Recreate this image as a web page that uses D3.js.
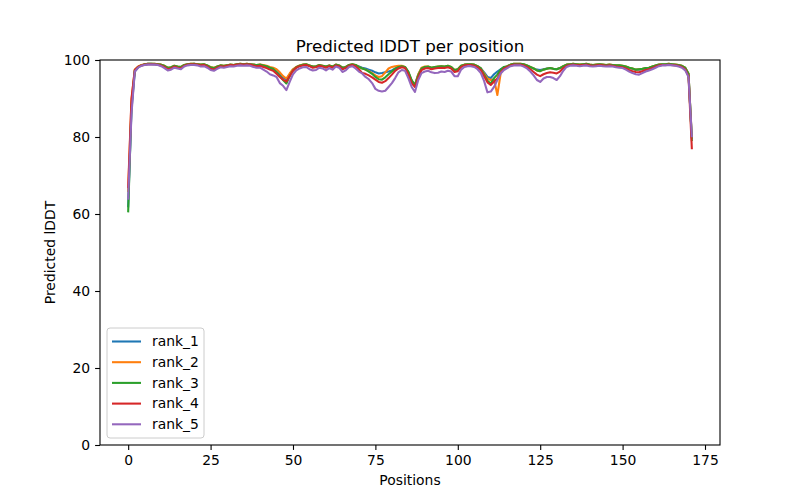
<!DOCTYPE html>
<html>
<head>
<meta charset="utf-8">
<style>
  body { margin: 0; background: #fff; }
  text { font-family: "DejaVu Sans", sans-serif; fill: #000; }
</style>
</head>
<body>
<script src="https://d3js.org/d3.v7.min.js"></script>
<script>
// predicted lDDT per residue position, 5 ranked models
var seriesNames = ["rank_1", "rank_2", "rank_3", "rank_4", "rank_5"];
var seriesColors = ["#1f77b4", "#ff7f0e", "#2ca02c", "#d62728", "#9467bd"];
var xTicks = [0, 25, 50, 75, 100, 125, 150, 175];
var yTicks = [0, 20, 40, 60, 80, 100];

var rank_1 = [
  62.0, 87.0, 97.0, 98.1, 98.6, 98.8, 99.0, 99.0, 98.9, 98.9,
  98.7, 98.4, 97.9, 98.0, 98.4, 98.2, 98.1, 98.6, 98.9, 98.9,
  99.0, 98.9, 98.7, 98.8, 98.5, 98.0, 97.8, 98.2, 98.5, 98.4,
  98.6, 98.7, 98.7, 98.8, 98.9, 98.9, 98.9, 98.9, 98.7, 98.6,
  98.7, 98.5, 98.3, 98.0, 97.6, 97.0, 96.2, 95.5, 95.0, 96.3,
  97.5, 98.1, 98.5, 98.7, 98.8, 98.5, 98.2, 98.3, 98.6, 98.4,
  98.2, 98.5, 98.2, 98.7, 98.5, 97.9, 98.1, 98.6, 98.8, 98.6,
  98.3, 98.0, 97.8, 97.5, 97.2, 96.8, 96.5, 96.6, 96.8, 97.0,
  97.3, 97.8, 98.2, 98.3, 98.1, 96.8, 94.5, 93.6, 96.2, 97.8,
  98.1, 98.2, 97.9, 98.1, 98.2, 98.3, 98.2, 98.4, 98.1, 97.3,
  97.5, 98.4, 98.7, 98.8, 98.8, 98.7, 98.3, 97.8, 96.8, 95.6,
  95.3, 96.3, 97.0, 97.6, 98.0, 98.3, 98.7, 98.9, 98.9, 98.9,
  98.8, 98.5, 98.1, 97.8, 97.5, 97.4, 97.6, 97.8, 97.9, 97.7,
  97.6, 97.9, 98.3, 98.7, 98.8, 98.9, 98.8, 98.7, 98.8, 98.9,
  98.7, 98.6, 98.7, 98.8, 98.7, 98.6, 98.7, 98.6, 98.5, 98.5,
  98.4, 98.2, 97.9, 97.7, 97.4, 97.5, 97.6, 97.8, 97.9, 98.2,
  98.5, 98.7, 98.8, 98.8, 98.9, 98.8, 98.7, 98.6, 98.4, 97.9,
  96.3, 79.8
];
var rank_2 = [
  66.0, 89.5, 97.5, 98.3, 98.7, 98.9, 99.0, 99.0, 99.0, 98.9,
  98.8, 98.5, 98.0, 98.1, 98.5, 98.3, 98.2, 98.7, 98.9, 99.0,
  99.0, 98.9, 98.8, 98.9, 98.6, 98.2, 98.0, 98.3, 98.6, 98.5,
  98.6, 98.8, 98.7, 98.9, 99.0, 98.9, 99.0, 98.9, 98.8, 98.7,
  98.8, 98.7, 98.5, 98.2, 98.0, 97.6, 96.8, 95.8, 95.2, 96.5,
  97.6, 98.2, 98.6, 98.8, 98.9, 98.6, 98.3, 98.4, 98.7, 98.5,
  98.3, 98.6, 98.3, 98.8, 98.6, 98.0, 98.2, 98.7, 98.9, 98.7,
  98.2, 97.8, 97.5, 97.1, 96.6, 96.0, 95.6, 95.8, 96.8, 97.8,
  98.2, 98.4, 98.5, 98.5, 98.2, 96.8, 94.6, 93.5, 96.3, 98.0,
  98.3, 98.3, 98.0, 98.2, 98.3, 98.4, 98.3, 98.5, 98.2, 97.4,
  97.6, 98.5, 98.8, 98.9, 98.9, 98.8, 98.4, 97.8, 96.5, 95.2,
  94.8, 95.0, 90.9, 96.5, 97.8, 98.4, 98.8, 99.0, 99.0, 99.0,
  98.9, 98.6, 98.2, 97.8, 97.3, 97.1, 97.5, 97.7, 97.9, 97.7,
  97.6, 97.9, 98.4, 98.8, 98.9, 99.0, 98.9, 98.8, 98.9, 99.0,
  98.8, 98.7, 98.8, 98.9, 98.8, 98.7, 98.8, 98.7, 98.6, 98.6,
  98.5, 98.3, 98.0, 97.8, 97.5, 97.6, 97.7, 97.9, 98.0, 98.3,
  98.6, 98.8, 98.9, 98.9, 99.0, 98.9, 98.8, 98.7, 98.5, 98.0,
  96.4, 80.0
];
var rank_3 = [
  60.7, 88.0, 97.3, 98.2, 98.6, 98.9, 99.0, 99.0, 99.0, 98.9,
  98.8, 98.5, 98.0, 98.1, 98.5, 98.3, 98.2, 98.7, 98.9, 99.0,
  99.0, 98.9, 98.8, 98.9, 98.6, 98.1, 97.9, 98.3, 98.6, 98.5,
  98.6, 98.8, 98.7, 98.9, 99.0, 98.9, 99.0, 98.9, 98.8, 98.7,
  98.8, 98.6, 98.4, 98.0, 97.7, 96.8, 95.8, 94.8, 93.9, 95.8,
  97.3, 98.1, 98.5, 98.8, 98.9, 98.6, 98.3, 98.4, 98.7, 98.5,
  98.3, 98.6, 98.3, 98.8, 98.6, 98.0, 98.2, 98.7, 98.9, 98.7,
  98.2, 97.8, 97.5, 97.0, 96.4, 95.6, 95.0, 94.9, 95.5, 96.3,
  97.0, 97.7, 98.2, 98.4, 98.2, 97.0, 94.8, 93.4, 96.0, 97.8,
  98.2, 98.3, 98.0, 98.2, 98.3, 98.4, 98.3, 98.5, 98.2, 97.4,
  97.6, 98.5, 98.8, 98.9, 98.9, 98.8, 98.4, 97.8, 96.2, 94.6,
  93.9, 95.3, 96.2, 97.5, 98.2, 98.4, 98.8, 99.0, 99.0, 99.0,
  98.9, 98.6, 98.2, 97.8, 97.3, 97.1, 97.5, 97.7, 97.9, 97.7,
  97.6, 97.9, 98.4, 98.8, 98.9, 99.0, 98.9, 98.8, 98.9, 99.0,
  98.8, 98.7, 98.8, 98.9, 98.8, 98.7, 98.8, 98.7, 98.6, 98.6,
  98.5, 98.3, 98.0, 97.8, 97.5, 97.6, 97.7, 97.9, 98.0, 98.3,
  98.6, 98.8, 98.9, 98.9, 99.0, 98.9, 98.8, 98.7, 98.5, 98.0,
  96.5, 79.2
];
var rank_4 = [
  67.0, 90.0, 97.4, 98.2, 98.6, 98.8, 98.9, 98.9, 98.9, 98.8,
  98.6, 98.2, 97.6, 97.8, 98.3, 98.0, 97.9, 98.5, 98.8, 98.9,
  98.9, 98.8, 98.6, 98.7, 98.3, 97.7, 97.5, 98.0, 98.4, 98.3,
  98.5, 98.7, 98.6, 98.8, 98.9, 98.8, 98.9, 98.8, 98.6, 98.4,
  98.5, 98.2, 97.9, 97.5, 97.2, 96.4, 95.6, 94.9, 94.4, 95.8,
  97.2, 98.0, 98.4, 98.6, 98.7, 98.4, 98.0, 98.1, 98.5, 98.3,
  98.0, 98.4, 98.0, 98.6, 98.4, 97.6, 97.9, 98.5, 98.7, 98.4,
  97.6, 96.6, 96.4, 96.0, 95.5, 94.9, 94.3, 94.1, 94.5, 95.3,
  96.2, 97.2, 97.8, 98.1, 97.9, 96.3, 94.0, 93.0, 95.5, 97.4,
  97.8, 97.9, 97.6, 97.8, 97.9, 98.0, 97.9, 98.1, 97.8, 96.9,
  97.1, 98.2, 98.6, 98.7, 98.7, 98.5, 98.1, 97.4, 95.8, 94.2,
  93.5, 94.4, 95.2, 96.8, 97.8, 98.2, 98.6, 98.8, 98.8, 98.8,
  98.6, 98.2, 97.6, 96.9, 96.2, 95.8, 96.3, 96.6, 96.8, 96.7,
  96.5, 97.0, 97.9, 98.5, 98.7, 98.8, 98.7, 98.6, 98.7, 98.8,
  98.6, 98.5, 98.6, 98.7, 98.6, 98.5, 98.6, 98.5, 98.3, 98.2,
  98.1, 97.8, 97.4, 97.1, 96.9, 96.8, 97.1, 97.4, 97.6, 97.9,
  98.3, 98.6, 98.7, 98.7, 98.8, 98.7, 98.6, 98.5, 98.2, 97.6,
  95.8, 77.1
];
var rank_5 = [
  64.0, 86.0, 97.0, 98.0, 98.5, 98.7, 98.8, 98.8, 98.8, 98.7,
  98.4, 97.9, 97.3, 97.5, 98.0, 97.8, 97.6, 98.3, 98.6, 98.7,
  98.7, 98.6, 98.3, 98.4, 98.0, 97.4, 97.2, 97.7, 98.1, 98.0,
  98.2, 98.4, 98.3, 98.5, 98.6, 98.5, 98.6, 98.5, 98.2, 98.0,
  98.0, 97.5, 97.0, 96.3, 96.0, 95.6, 94.0, 93.3, 92.2, 94.3,
  96.3, 97.3, 97.8, 98.1, 98.2, 97.6, 97.3, 97.4, 98.0, 97.8,
  97.3, 97.9, 97.5, 98.3, 98.0, 96.9, 97.3, 98.2, 98.4, 97.8,
  97.0, 96.5, 95.6, 95.0, 94.0, 92.5, 92.0, 91.8, 92.0, 93.0,
  94.0, 95.3, 96.8, 97.4, 97.2, 95.3, 93.0, 91.7, 94.8, 96.6,
  97.0, 97.2, 96.8, 96.6, 96.7, 97.0, 96.9, 97.2, 97.0, 95.8,
  95.8, 97.5, 98.2, 98.4, 98.4, 98.2, 97.6, 96.6, 94.5, 91.6,
  91.8, 93.0, 94.8, 96.5, 97.4, 97.9, 98.4, 98.6, 98.6, 98.6,
  98.3, 97.8, 97.0, 96.0, 94.8, 94.3, 95.2, 95.6, 95.6, 95.3,
  94.8, 95.8, 97.2, 98.2, 98.5, 98.6, 98.5, 98.4, 98.5, 98.6,
  98.4, 98.3, 98.4, 98.5, 98.4, 98.3, 98.4, 98.3, 98.1, 98.0,
  97.9, 97.5, 97.0, 96.6, 96.3, 96.2, 96.6, 97.0, 97.3, 97.6,
  98.0, 98.4, 98.6, 98.6, 98.7, 98.6, 98.5, 98.3, 98.0, 97.3,
  95.6, 80.2
];
var allSeries = [rank_1, rank_2, rank_3, rank_4, rank_5];

var width = 800, height = 500;
var margin = { top: 60, right: 80, bottom: 55, left: 100 };
var plotW = width - margin.left - margin.right;
var plotH = height - margin.top - margin.bottom;

var svg = d3.select("body").append("svg")
            .attr("width", width)
            .attr("height", height);

// matplotlib style: 5% padding either side of the data range
var n = rank_1.length - 1;
var pad = n * 0.05;
var x = d3.scaleLinear().domain([-pad, n + pad]).range([0, plotW]);
var y = d3.scaleLinear().domain([0, 100]).range([plotH, 0]);

var g = svg.append("g").attr("transform", "translate(" + margin.left + "," + margin.top + ")");

// lines
var line = d3.line()
             .x(function (d, i) { return x(i); })
             .y(function (d) { return y(d); });

allSeries.forEach(function (s, k) {
  g.append("path")
   .datum(s)
   .attr("fill", "none")
   .attr("stroke", seriesColors[k])
   .attr("stroke-width", 2.08)
   .attr("stroke-linejoin", "round")
   .attr("stroke-linecap", "square")
   .attr("d", line);
});

// axes
var xAxis = g.append("g")
             .attr("transform", "translate(0," + plotH + ")")
             .call(d3.axisBottom(x).tickValues(xTicks).tickSize(4.9).tickPadding(4.9));
var yAxis = g.append("g")
             .call(d3.axisLeft(y).tickValues(yTicks).tickSize(4.9).tickPadding(4.9));
[xAxis, yAxis].forEach(function (a) {
  a.select(".domain").remove();
  a.selectAll(".tick line").attr("stroke", "#000").attr("stroke-width", 1.1);
  a.selectAll(".tick text").style("font-size", "13.9px").attr("fill", "#000");
});

// frame
g.append("rect")
 .attr("width", plotW).attr("height", plotH)
 .attr("fill", "none").attr("stroke", "#000").attr("stroke-width", 1.1);

// titles
svg.append("text")
   .attr("x", margin.left + plotW / 2).attr("y", margin.top - 8)
   .attr("text-anchor", "middle").style("font-size", "16.7px")
   .text("Predicted lDDT per position");
svg.append("text")
   .attr("x", margin.left + plotW / 2).attr("y", height - 15)
   .attr("text-anchor", "middle").style("font-size", "13.9px")
   .text("Positions");
svg.append("text")
   .attr("transform", "translate(55," + (margin.top + plotH / 2) + ") rotate(-90)")
   .attr("text-anchor", "middle").style("font-size", "13.9px")
   .text("Predicted lDDT");

// legend, lower left
var legend = g.append("g").attr("transform", "translate(7," + (plotH - 117) + ")");
legend.append("rect")
      .attr("width", 97).attr("height", 110).attr("rx", 3)
      .attr("fill", "#fff").attr("fill-opacity", 0.8)
      .attr("stroke", "#ccc").attr("stroke-width", 1);
seriesNames.forEach(function (name, k) {
  var row = legend.append("g").attr("transform", "translate(0," + (13.5 + k * 20.7) + ")");
  row.append("line").attr("x1", 5).attr("x2", 34)
     .attr("stroke", seriesColors[k]).attr("stroke-width", 2.08);
  row.append("text").attr("x", 45).attr("dy", "0.35em")
     .style("font-size", "13.9px").text(name);
});
</script>
</body>
</html>
